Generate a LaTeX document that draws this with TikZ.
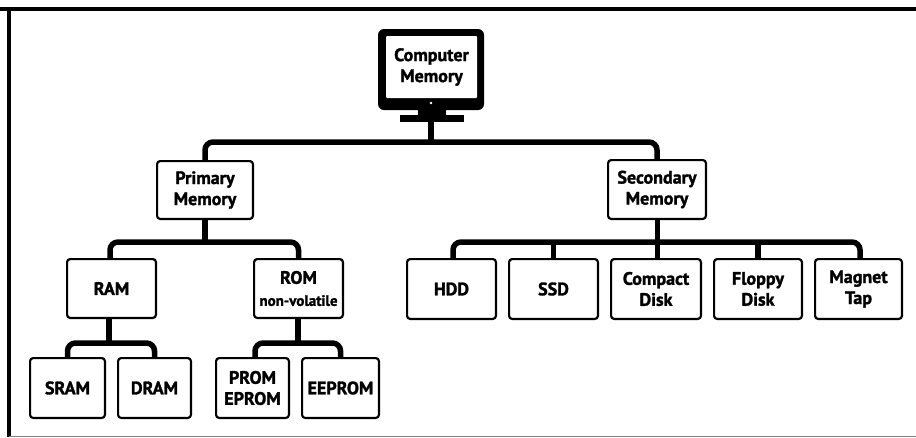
\documentclass[tikz,border=0pt]{standalone}
\usepackage{fontspec}
\setmainfont[BoldFont={PT Sans Bold},BoldFeatures={FakeBold=1.6}]{PT Sans}
\tikzset{
  memfont/.style={font=\fontsize{18}{21}\selectfont\bfseries},
  membox/.style={draw=black,line width=2.2pt,rounded corners=3pt,fill=white,align=center,inner sep=0pt,memfont},
  bus/.style={draw=black,line width=5.5pt,rounded corners=8pt},
  thin bus/.style={draw=black,line width=4.5pt}
}
\newcommand{\mybox}[6]{\node[membox,minimum width=#3pt-#1pt-2.2pt,minimum height=#4pt-#2pt-2.2pt] (#5) at ({(#1+#3)/2},{(#2+#4)/2}) {#6};}
\begin{document}
\begin{tikzpicture}[x=1pt,y=-1pt]
\useasboundingbox (0,0) rectangle (916,437);
\fill[white] (0,0) rectangle (916,437);
% frame
\draw[line width=4pt] (0,9) -- (916,9);
\draw[line width=4pt] (9,9) -- (9,437);
\draw[line width=1pt,black!50] (9,436.5) -- (916,436.5);
% junctions
\coordinate (jt) at (431,142);
\coordinate (jp) at (205,242);
\coordinate (js) at (657.5,242);
\coordinate (jr) at (109,343);
\coordinate (jo) at (298,343);
% monitor
\fill[rounded corners=6pt] (378,29) rectangle (484,110);
\node[fill=white,rounded corners=1pt,minimum width=91pt,minimum height=62pt,inner sep=0pt,align=center,memfont] (monitor) at (431.5,67) {Computer\\Memory};
\fill[white] (431,103) circle (1.3pt);
\fill (418,110) rectangle (446,116);
\fill (400,115) rectangle (464,122);
\coordinate (standbase) at (431,122);
% boxes
\mybox{156}{160}{254}{220}{primary}{Primary\\Memory}
\mybox{607}{159}{707}{220}{secondary}{Secondary\\Memory}
\mybox{66}{258}{157}{319}{ram}{RAM}
\mybox{253}{258}{344}{319}{rom}{ROM\\[1pt]{\fontsize{15}{15}\selectfont non-volatile}}
\mybox{406}{258}{497}{320}{hdd}{HDD}
\mybox{508}{258}{599}{320}{ssd}{SSD}
\mybox{610}{258}{702}{320}{compact}{Compact\\Disk}
\mybox{713}{258}{803}{320}{floppy}{Floppy\\Disk}
\mybox{814}{258}{903}{320}{magnet}{Magnet\\Tap}
\mybox{29}{357}{106}{419}{sram}{SRAM}
\mybox{117}{357}{192}{419}{dram}{DRAM}
\mybox{215}{357}{290}{419}{prom}{PROM\\EPROM}
\mybox{301}{357}{380}{419}{eeprom}{EEPROM}
% connectors
\draw[line width=5.5pt] (standbase) -- (jt);
\draw[bus] (primary.north) |- (jt) -| (secondary.north);
\draw[bus] (jp|-primary.south) -- (jp);
\draw[bus] ([xshift=-1.5pt]ram.north) |- (jp) -| (rom.north);
\draw[bus] (js|-secondary.south) -- (js|-compact.north);
\draw[bus] ([xshift=1.5pt]hdd.north) |- (js) -| ([xshift=1.5pt]magnet.north);
\draw[thin bus] (ssd.north) -- (ssd.north|-js);
\draw[bus] (floppy.north) -- (floppy.north|-js);
\draw[bus] (jr|-ram.south) -- (jr);
\draw[bus] (sram.north) |- (jr) -| (dram.north);
\draw[bus] (jo|-rom.south) -- (jo);
\draw[bus] ([xshift=2.5pt]prom.north) |- (jo) -| (eeprom.north);
\end{tikzpicture}
\end{document}
